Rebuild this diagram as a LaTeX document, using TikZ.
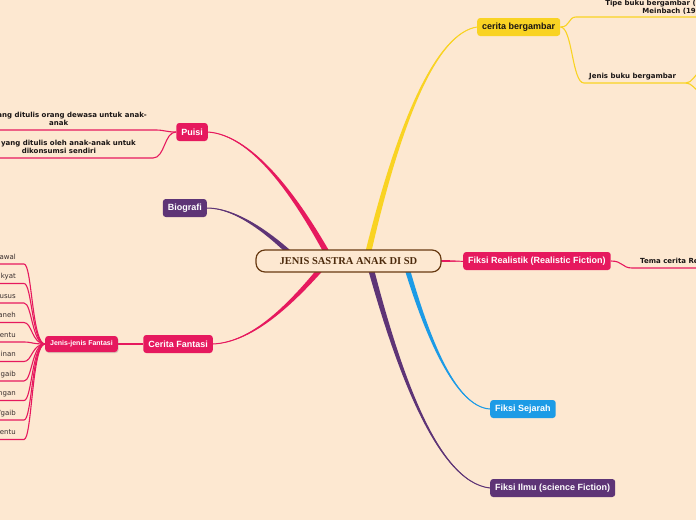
\documentclass[tikz,border=0pt]{standalone}
\usepackage{fontspec}
\setmainfont{Liberation Sans}
\newfontfamily\leaffont{DejaVu Sans}
\newfontfamily\rootfont{Liberation Serif}
\usetikzlibrary{calc,shadows}

\definecolor{paper}{RGB}{253,232,209}
\definecolor{mmpink}{RGB}{230,25,94}
\definecolor{mmyellow}{RGB}{249,211,35}
\definecolor{mmblue}{RGB}{28,155,230}
\definecolor{mmpurple}{RGB}{94,52,118}
\definecolor{rootline}{RGB}{104,58,18}
\definecolor{roottext}{RGB}{76,42,12}
\definecolor{leafink}{RGB}{25,20,20}
\definecolor{listink}{RGB}{55,45,45}

\pgfdeclarelayer{background}
\pgfsetlayers{background,main}

% dicker, spitz zulaufender Ast: Farbe, Start, C1, C2, Ziel, Versatz an Start/C1/C2
\newcommand{\branch}[8]{%
  \fill[#1] ($(#2)+(#6)$) .. controls ($(#3)+(#7)$) and ($(#4)+(#8)$) .. (#5)
    .. controls ($(#4)-(#8)$) and ($(#3)-(#7)$) .. ($(#2)-(#6)$) -- cycle;
  \draw[#1, line width=1pt] (#2) .. controls (#3) and (#4) .. (#5);}

\tikzset{
    central/.style={
        draw=rootline,
        line width=1.2pt,
        fill=paper,
        rounded corners=9pt,
        minimum width=185pt,
        minimum height=22pt,
        text=roottext,
        font=\rootfont\bfseries\fontsize{10.5}{12}\selectfont
    },
    topic/.style={
        rounded corners=3pt,
        minimum height=18pt,
        inner xsep=5pt,
        inner ysep=0pt,
        text=white,
        font=\bfseries\fontsize{9}{10}\selectfont
    },
    subtopic/.style={
        topic,
        minimum height=16pt,
        font=\bfseries\fontsize{7}{8}\selectfont
    },
    leaf/.style={
        inner xsep=0pt,
        inner ysep=3.2pt,
        text depth=1.5pt,
        text=leafink,
        font=\leaffont\bfseries\fontsize{7}{8}\selectfont
    },
    listleaf/.style={
        leaf,
        text=listink,
        font=\leaffont\fontsize{7}{8}\selectfont
    },
    leafblock/.style={
        inner xsep=0pt,
        inner ysep=4.7pt,
        align=center,
        text=leafink,
        font=\leaffont\bfseries\fontsize{7}{8}\selectfont
    },
    twig/.style={
        line width=1.1pt
    }
}

\begin{document}
\begin{tikzpicture}[x=1pt, y=-1pt]
\useasboundingbox (0,0) rectangle (696,520);

    % Zentrum
    \node[central] (root) at (348.5,261) {JENIS SASTRA ANAK DI SD};

    % Hauptzweige
    \path
        node[topic, fill=mmyellow, text=leafink, anchor=west] (cerita)  at (477,27)  {cerita bergambar}
        node[topic, fill=mmpink, anchor=west]                 (realis)  at (463,261) {Fiksi Realistik (Realistic Fiction)}
        node[topic, fill=mmblue, anchor=west]                 (sejarah) at (490,409) {Fiksi Sejarah}
        node[topic, fill=mmpurple, anchor=west]               (ilmu)    at (490,488) {Fiksi Ilmu (science Fiction)}
        node[topic, fill=mmpink, anchor=east]                 (puisi)   at (208,132) {Puisi}
        node[topic, fill=mmpurple, anchor=east]               (bio)     at (207,208) {Biografi}
        node[topic, fill=mmpink, anchor=east]                 (fantasi) at (213,344) {Cerita Fantasi};

    \node[subtopic, fill=mmpink, anchor=east,
          drop shadow={opacity=0.3, shadow xshift=0.8pt, shadow yshift=-1pt}]
        (jfantasi) at (118,344) {Jenis-jenis Fantasi};

    % Blaetter (am Rand abgeschnitten)
    \node[leafblock, align=right, anchor=south east, inner ysep=2.5pt] (tipe) at (696,17)
        {Tipe buku bergambar (\\Meinbach (19};
    \node[leaf, anchor=south west] (jbuku) at (589,83)  {Jenis buku bergambar};
    \node[leaf, anchor=south west] (tema)  at (640,268) {Tema cerita Re};
    \node[leafblock, anchor=south east] (pa) at (147,130)
        {ang ditulis orang dewasa untuk anak-\\anak\hspace*{27pt}};
    \node[leafblock, anchor=south east] (pb) at (136,158)
        {yang ditulis oleh anak-anak untuk\\dikonsumsi sendiri\hspace*{19pt}};

    \foreach \t [count=\i, evaluate=\i as \yu using 244.5+\i*19.5]
        in {awal,kyat,usus,aneh,entu,ainan,gaib,ngan,{/gaib},entu} {
        \node[listleaf, anchor=south east] (f\i) at (16,\yu) {\t};
        \coordinate (jf\i) at (24,\yu);
    }

    % Knickpunkte und Raender
    \coordinate (eL) at (-2,0);
    \coordinate (eR) at (698,0);
    \coordinate (j-tipe)   at (576,17);
    \coordinate (j-jbuku)  at (584,83);
    \coordinate (j-jbuku2) at (686,83);
    \coordinate (jb-up)    at (700,72);
    \coordinate (jb-dn)    at (700,92);
    \coordinate (j-tema)   at (632,268);
    \coordinate (j-pa)     at (156,130);
    \coordinate (j-pb)     at (153,158);

    % Startpunkte der Aeste (unter dem Zentrum versteckt)
    \coordinate (s-cerita)  at ($(root.center)+(17.5,1)$);
    \coordinate (s-realis)  at ($(root.center)+(71.5,0)$);
    \coordinate (s-sejarah) at ($(root.center)+(55.5,-3)$);
    \coordinate (s-ilmu)    at ($(root.center)+(19.5,-3)$);
    \coordinate (s-puisi)   at ($(root.center)+(-16.5,1)$);
    \coordinate (s-bio)     at ($(root.center)+(-43.5,7)$);
    \coordinate (s-fantasi) at ($(root.center)+(-18.5,-3)$);

    \begin{pgfonlayer}{background}
        \fill[paper] (0,0) rectangle (696,520);

        % Hauptaeste
        \branch{mmyellow}{s-cerita}{400,115}{438,33}{cerita.west}{2.9,0.7}{1.6,0.8}{0.1,0.7}
        \branch{mmpink}{s-puisi}{293,190}{250,135}{puisi.east}{2.6,-1.5}{1.5,-1.3}{0,-0.7}
        \branch{mmpurple}{s-bio}{270,232}{235,208}{bio.east}{2.1,-2.1}{1.1,-1.6}{0,-0.7}
        \branch{mmpink}{s-fantasi}{295,300}{255,342}{fantasi.east}{-2.3,-1.9}{-1.4,-1.4}{0,-0.7}
        \branch{mmpurple}{s-ilmu}{395,360}{435,482}{ilmu.west}{-2.9,0.8}{-1.9,0.6}{-0.1,0.7}
        \branch{mmblue}{s-sejarah}{426,335}{455,407}{sejarah.west}{-2.6,0.7}{-1.7,0.7}{0,0.6}
        \branch{mmpink}{s-realis}{440,261}{452,261}{realis.west}{0,1.3}{0,1.1}{0,0.9}

        % duenne Zweige
        \draw[twig, mmyellow] (cerita.east) .. controls +(10,0) and +(-8,0) .. (j-tipe) -- (j-tipe -| eR);
        \draw[twig, mmyellow] (cerita.east) .. controls +(12,0) and +(-12,0) .. (j-jbuku) -- (j-jbuku2);
        \draw[twig, mmyellow] (j-jbuku2) .. controls +(6,0) and +(-5,2) .. (jb-up);
        \draw[twig, mmyellow] (j-jbuku2) .. controls +(6,0) and +(-5,-2) .. (jb-dn);
        \draw[twig, mmpink] (realis.east) .. controls +(12,0) and +(-10,0) .. (j-tema) -- (j-tema -| eR);
        \draw[twig, mmpink] (puisi.west) .. controls +(-10,0) and +(8,0) .. (j-pa) -- (j-pa -| eL);
        \draw[twig, mmpink] (puisi.west) .. controls +(-12,0) and +(12,0) .. (j-pb) -- (j-pb -| eL);
        \draw[line width=1.6pt, mmpink] (fantasi.west) -- (jfantasi.east);
        \foreach \i in {1,...,10}
            \draw[twig, mmpink] (jfantasi.west) .. controls +(-13,0) and +(8,0) .. (jf\i) -- (jf\i -| eL);
    \end{pgfonlayer}
\end{tikzpicture}
\end{document}
